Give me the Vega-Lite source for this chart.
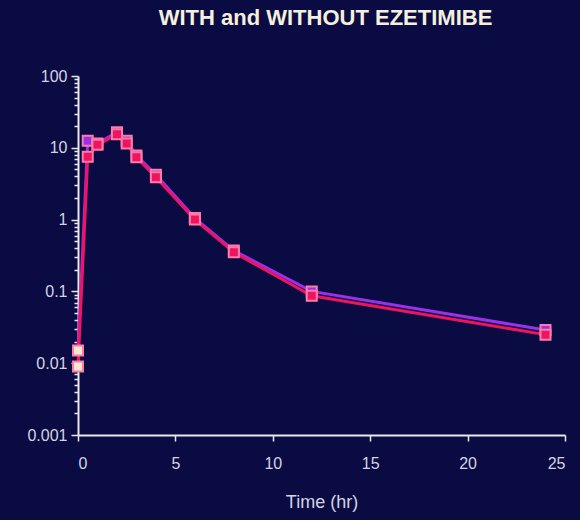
{
  "$schema": "https://vega.github.io/schema/vega-lite/v6.json",
  "autosize": "none",
  "width": 487,
  "height": 359,
  "padding": {"left": 78, "top": 76, "right": 15, "bottom": 85},
  "background": "#0b0b44",
  "title": {"text": "WITH and WITHOUT EZETIMIBE", "color": "#f4f0dc", "font": "Liberation Sans", "fontSize": 22, "fontWeight": "bold", "offset": 38, "anchor": "middle", "dx": 4},
  "config": {"view": {"stroke": null}, "axis": {"labelFont": "Liberation Sans", "titleFont": "Liberation Sans", "labelColor": "#d4d4e0", "titleColor": "#d4d4e0", "domainColor": "#e8e8e8", "tickColor": "#e8e8e8", "grid": false, "domainWidth": 2, "tickWidth": 1.5, "labelFontSize": 16, "titleFontSize": 18, "titleFontWeight": "normal"}},
  "data": {"values": [
    {"series": "with", "t": 0, "v": 0.015},
    {"series": "with", "t": 0.5, "v": 12.5},
    {"series": "with", "t": 1, "v": 11.5},
    {"series": "with", "t": 2, "v": 16.5},
    {"series": "with", "t": 2.5, "v": 12.5},
    {"series": "with", "t": 3, "v": 7.8},
    {"series": "with", "t": 4, "v": 4.2},
    {"series": "with", "t": 6, "v": 1.05},
    {"series": "with", "t": 8, "v": 0.37},
    {"series": "with", "t": 12, "v": 0.1},
    {"series": "with", "t": 24, "v": 0.029},
    {"series": "without", "t": 0, "v": 0.009},
    {"series": "without", "t": 0.5, "v": 7.5},
    {"series": "without", "t": 1, "v": 11},
    {"series": "without", "t": 2, "v": 15.5},
    {"series": "without", "t": 2.5, "v": 11.5},
    {"series": "without", "t": 3, "v": 7.4},
    {"series": "without", "t": 4, "v": 3.9},
    {"series": "without", "t": 6, "v": 1.0},
    {"series": "without", "t": 8, "v": 0.35},
    {"series": "without", "t": 12, "v": 0.087},
    {"series": "without", "t": 24, "v": 0.025}
  ]},
  "resolve": {"axis": {"y": "independent"}},
  "layer": [
    {
      "mark": {"type": "line", "strokeWidth": 3},
      "encoding": {
        "x": {"field": "t", "type": "quantitative", "scale": {"domain": [0, 25], "nice": false}, "axis": {"title": "Time (hr)", "values": [0, 5, 10, 15, 20, 25], "tickSize": 6, "labelPadding": 14, "titlePadding": 22}},
        "y": {"field": "v", "type": "quantitative", "scale": {"type": "log", "domain": [0.001, 100], "nice": false}, "axis": {"title": null, "values": [0.001, 0.01, 0.1, 1, 10, 100], "format": "~g", "tickSize": 7, "labelPadding": 4}},
        "color": {"field": "series", "type": "nominal", "scale": {"domain": ["with", "without"], "range": ["#9a30e8", "#ee1460"]}, "legend": null},
        "order": {"field": "t", "type": "quantitative"}
      }
    },
    {
      "mark": {"type": "square", "size": 100, "filled": true, "strokeWidth": 2, "opacity": 1},
      "encoding": {
        "x": {"field": "t", "type": "quantitative"},
        "y": {"field": "v", "type": "quantitative", "axis": null},
        "color": {"condition": {"test": "datum.t == 0", "value": "#f2ead0"}, "field": "series", "type": "nominal", "legend": null},
        "stroke": {"value": "#ff7aa8"}
      }
    },
    {
      "mark": {"type": "point", "opacity": 0},
      "encoding": {
        "y": {"field": "v", "type": "quantitative", "axis": {"orient": "left", "title": null, "labels": false, "domain": false, "tickSize": 4, "values": [0.002,0.003,0.004,0.005,0.006,0.007,0.008,0.009,0.02,0.03,0.04,0.05,0.06,0.07,0.08,0.09,0.2,0.3,0.4,0.5,0.6,0.7,0.8,0.9,2,3,4,5,6,7,8,9,20,30,40,50,60,70,80,90]}}
      }
    }
  ]
}
